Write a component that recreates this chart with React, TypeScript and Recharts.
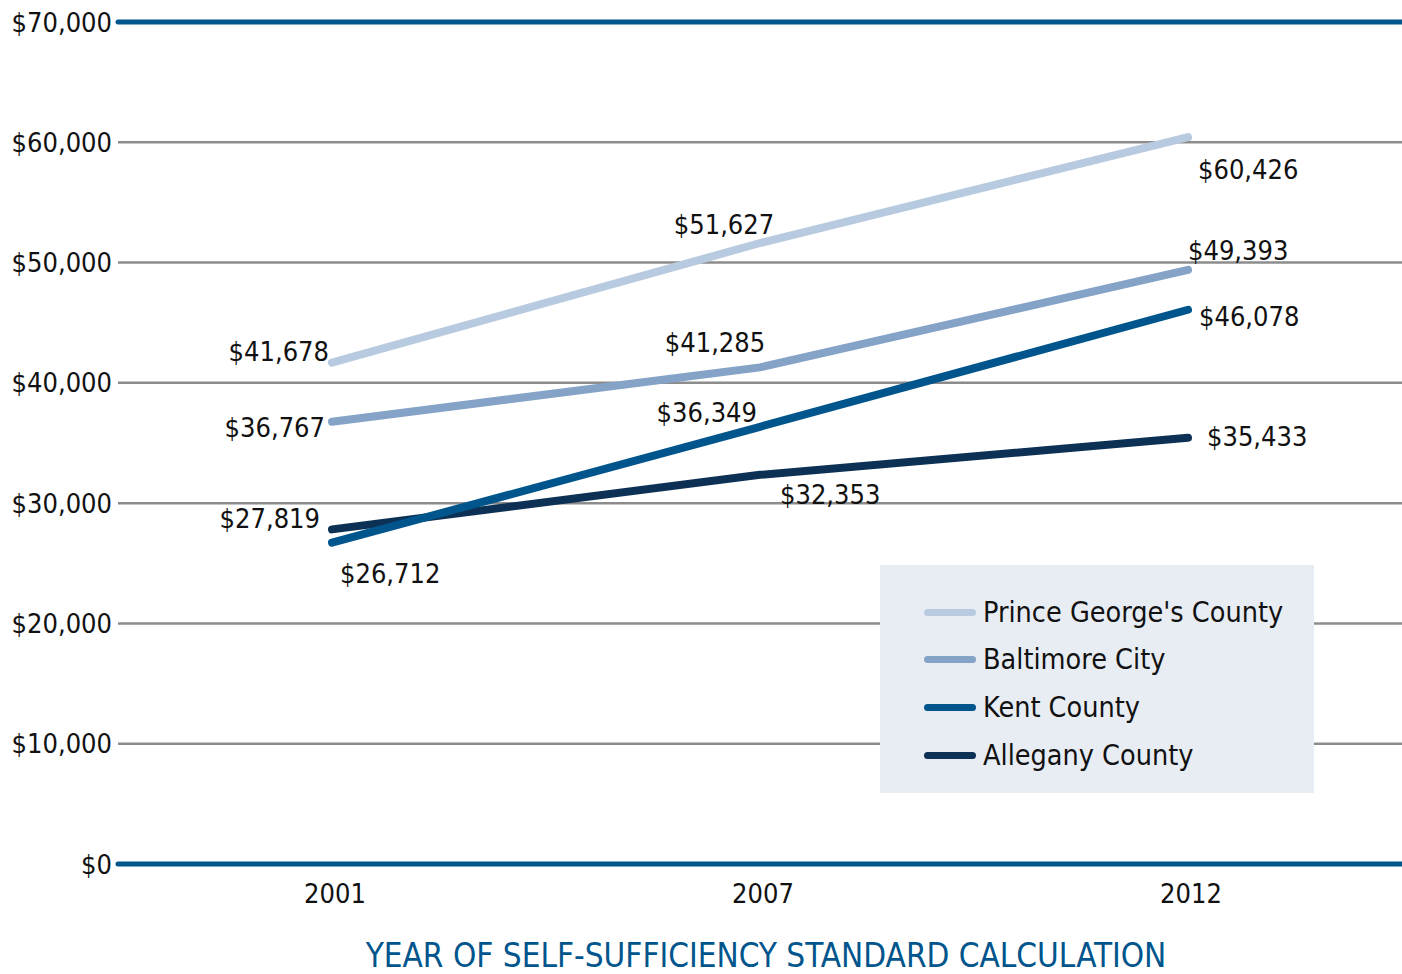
import React from 'react';
import { LineChart, Line, XAxis, YAxis, CartesianGrid, ReferenceLine, LabelList } from 'recharts';

const years = ['2001', '2007', '2012'];
const princeGeorges = [41678, 51627, 60426];
const baltimoreCity = [36767, 41285, 49393];
const kentCounty = [26712, 36349, 46078];
const alleganyCounty = [27819, 32353, 35433];
const yTicks = [0, 10000, 20000, 30000, 40000, 50000, 60000, 70000];

const data = years.map((y, i) => ({
  year: y,
  pg: princeGeorges[i],
  bal: baltimoreCity[i],
  kent: kentCounty[i],
  all: alleganyCounty[i],
}));

const FONT = '"DejaVu Sans Condensed", "DejaVu Sans", sans-serif';
const AXIS_BLUE = '#00558c';

const series = [
  { key: 'pg', name: "Prince George's County", color: '#b8cadf' },
  { key: 'bal', name: 'Baltimore City', color: '#84a3c7' },
  { key: 'kent', name: 'Kent County', color: '#00558c' },
  { key: 'all', name: 'Allegany County', color: '#0d3155' },
];

// label placement style: [anchor, dx, dy] per point
const labelPlacement: Record<string, [string, number, number][]> = {
  pg: [['end', -3, -11], ['middle', -36, -19], ['start', 10, 32]],
  bal: [['end', -7, 6], ['middle', -45, -25], ['start', 0, -19]],
  kent: [['start', 8, 31], ['end', -3, -14], ['start', 11, 7]],
  all: [['end', -12, -11], ['start', 20, 20], ['start', 19, -1]],
};

const fmt = (v: number) => '$' + v.toLocaleString('en-US');

const makeLabel = (key: string) => (props: any) => {
  const { x, y, value, index } = props;
  const [anchor, dx, dy] = labelPlacement[key][index];
  return (
    <text
      x={x + dx}
      y={y + dy}
      textAnchor={anchor as any}
      dominantBaseline="central"
      fontFamily={FONT}
      fontSize={27}
      fill="#111"
    >
      {fmt(value)}
    </text>
  );
};

const LegendBox = () => (
  <div
    style={{
      position: 'absolute',
      left: 880,
      top: 565,
      width: 434,
      height: 228,
      background: '#e8edf4',
      fontFamily: FONT,
    }}
  >
    {series.map((s, i) => (
      <div
        key={s.key}
        style={{
          position: 'absolute',
          left: 44,
          top: 47 + i * 47.7 - 18,
          height: 36,
          display: 'flex',
          alignItems: 'center',
        }}
      >
        <div style={{ width: 52, height: 7, borderRadius: 4, background: s.color, marginRight: 7 }} />
        <span style={{ fontSize: 28.5, color: '#111', whiteSpace: 'nowrap' }}>{s.name}</span>
      </div>
    ))}
  </div>
);

const drawOrder = ['pg', 'bal', 'all', 'kent'];

export default function App() {
  return (
    <div style={{ position: 'absolute', left: 0, top: 0, width: 1402, height: 974 }}>
      <LineChart width={1402} height={974} data={data} margin={{ top: 22, right: 0, bottom: 0, left: 0 }}>
        <CartesianGrid horizontal vertical={false} stroke="#8c8c8c" strokeWidth={2.5} />
        <XAxis
          dataKey="year"
          padding={{ left: 214, right: 214 }}
          axisLine={false}
          tickLine={false}
          height={110}
          tick={{ fontFamily: FONT, fontSize: 27, fill: '#111', dy: 12, dx: 3 }}
          label={{
            value: 'YEAR OF SELF-SUFFICIENCY STANDARD CALCULATION',
            position: 'insideBottom',
            offset: 7,
            fill: AXIS_BLUE,
            fontFamily: FONT,
            fontSize: 33,
            dx: 6,
          }}
        />
        <YAxis
          domain={[0, 70000]}
          ticks={yTicks}
          width={118}
          axisLine={false}
          tickLine={false}
          tickMargin={0}
          tickFormatter={(v: number) => fmt(v)}
          tick={{ fontFamily: FONT, fontSize: 27, fill: '#111' }}
          interval={0}
        />
        <ReferenceLine y={70000} stroke={AXIS_BLUE} strokeWidth={5} strokeLinecap="round" />
        <ReferenceLine y={0} stroke={AXIS_BLUE} strokeWidth={5} strokeLinecap="round" />
        {drawOrder.map((k) => {
          const s = series.find((x) => x.key === k)!;
          return (
            <Line
              key={k}
              dataKey={k}
              name={s.name}
              stroke={s.color}
              strokeWidth={8}
              strokeLinecap="round"
              dot={false}
              activeDot={false}
              isAnimationActive={false}
            >
              <LabelList dataKey={k} content={makeLabel(k)} />
            </Line>
          );
        })}
      </LineChart>
      <LegendBox />
    </div>
  );
}
